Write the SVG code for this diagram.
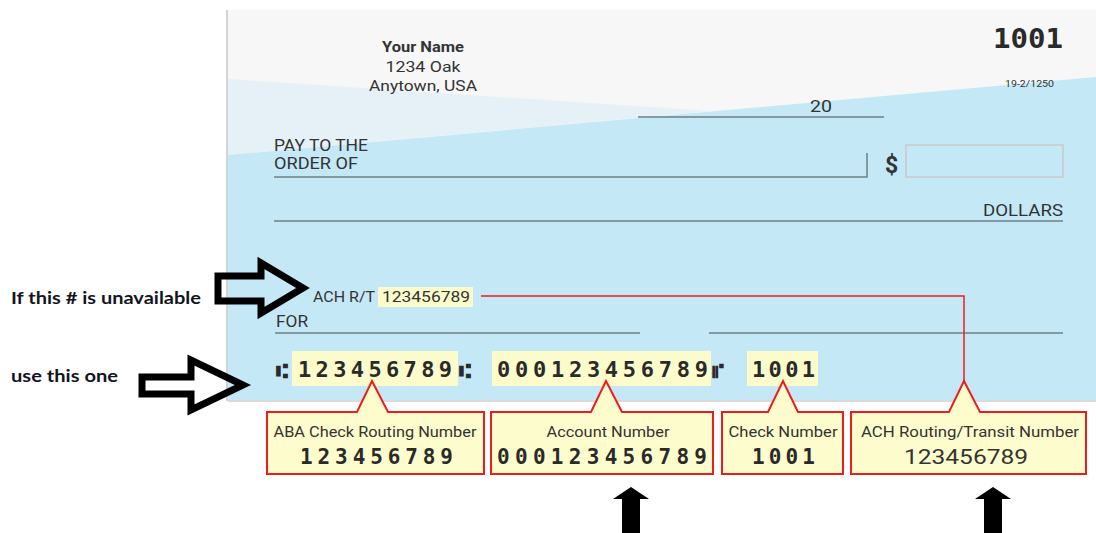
<svg xmlns="http://www.w3.org/2000/svg" width="1096" height="533" viewBox="0 0 1096 533">
<style>
.ck{font-family:Roboto,"Liberation Sans",sans-serif;fill:#333;}
.b{font-weight:bold;}
.micr{font-family:"DejaVu Sans Mono",monospace;font-weight:bold;fill:#2a2a2a;}
.sym{font-family:"DejaVu Sans","DejaVu Sans Mono",sans-serif;font-weight:bold;fill:#2a2a2a;}
.ln{stroke:#6f7f86;stroke-width:1.5;fill:none;}
.hl{fill:#fcfbcc;}
.call{fill:#fdfccc;stroke:#ee1c1c;stroke-width:2;}
.lbl{font-family:Lato,"Liberation Sans",sans-serif;font-weight:bold;fill:#141420;}
.oarrow{fill:none;stroke:#000;stroke-width:7;stroke-linejoin:miter;}
.sarrow{fill:#000;}
</style>
<rect width="1096" height="533" fill="#fff"/>
<g id="check">
<rect x="228" y="10" width="868" height="391" fill="#f7f7f7"/>
<polygon points="228,79 711,111 228,155" fill="#e5f1f7"/>
<polygon points="228,155 1096,77 1096,400 228,400" fill="#c4e8f6"/>
<line x1="227" y1="10" x2="227" y2="401" stroke="#d4d4d4" stroke-width="2"/>
<line x1="228" y1="401" x2="1096" y2="401" stroke="#cfcfcf" stroke-width="1.5"/>
<text class="ck b" x="423" y="52" font-size="15" text-anchor="middle" textLength="82" lengthAdjust="spacingAndGlyphs">Your Name</text>
<text class="ck" x="423" y="72" font-size="15" text-anchor="middle" textLength="75" lengthAdjust="spacingAndGlyphs">1234 Oak</text>
<text class="ck" x="423" y="91" font-size="15" text-anchor="middle" textLength="108" lengthAdjust="spacingAndGlyphs">Anytown, USA</text>
<text class="micr" x="993" y="48" font-size="27" textLength="70" lengthAdjust="spacingAndGlyphs">1001</text>
<text class="ck" x="1005" y="87" font-size="9.5" textLength="49" lengthAdjust="spacingAndGlyphs">19-2/1250</text>
<text class="ck" x="810" y="112" font-size="16" textLength="22" lengthAdjust="spacingAndGlyphs">20</text>
<line class="ln" x1="638" y1="117" x2="884" y2="117"/>
<text class="ck" x="274" y="151" font-size="17" textLength="94" lengthAdjust="spacingAndGlyphs">PAY TO THE</text>
<text class="ck" x="274" y="169" font-size="17" textLength="84" lengthAdjust="spacingAndGlyphs">ORDER OF</text>
<polyline class="ln" points="274,177 867,177 867,153"/>
<text class="ck b" x="885" y="173" font-size="23">$</text>
<rect x="906" y="145" width="157" height="32" fill="none" stroke="#c8c8c8" stroke-width="1.5"/>
<text class="ck" x="1063" y="216" font-size="17" text-anchor="end" textLength="80" lengthAdjust="spacingAndGlyphs">DOLLARS</text>
<line class="ln" x1="274" y1="221" x2="1063" y2="221"/>
<text class="ck" x="313" y="302" font-size="14" textLength="62" lengthAdjust="spacingAndGlyphs">ACH R/T</text>
<rect class="hl" x="378" y="287" width="95" height="20"/>
<text class="ck" x="382" y="302" font-size="15" textLength="88" lengthAdjust="spacingAndGlyphs">123456789</text>
<text class="ck" x="276" y="327" font-size="16" textLength="32" lengthAdjust="spacingAndGlyphs">FOR</text>
<line class="ln" x1="275" y1="333" x2="640" y2="333"/>
<line class="ln" x1="709" y1="333" x2="1063" y2="333"/>
<rect class="hl" x="292" y="351" width="166" height="35"/>
<rect class="hl" x="492" y="351" width="219" height="35"/>
<rect class="hl" x="747" y="351" width="71" height="35"/>
<text class="sym" x="276" y="378" font-size="20">⑆</text>
<text class="micr" x="298" y="377" font-size="22" textLength="154" lengthAdjust="spacing">123456789</text>
<text class="sym" x="459" y="378" font-size="20">⑆</text>
<text class="micr" x="497" y="377" font-size="22" textLength="211" lengthAdjust="spacing">000123456789</text>
<text class="sym" x="712" y="378" font-size="20">⑈</text>
<text class="micr" x="752" y="377" font-size="22" textLength="63" lengthAdjust="spacing">1001</text>
</g>
<g id="connectors">
<polyline points="481,296 964,296 964,382" fill="none" stroke="#ee1c1c" stroke-width="1.5"/>
</g>
<g id="callout-aba">
<path class="call" d="M267,412 H357 L372,381 L388,412 H484 V474 H267 Z"/>
<text class="ck" x="375" y="437" font-size="15" text-anchor="middle" textLength="203" lengthAdjust="spacingAndGlyphs">ABA Check Routing Number</text>
<text class="micr" x="300" y="464" font-size="21" textLength="153" lengthAdjust="spacing">123456789</text>
</g>
<g id="callout-account">
<path class="call" d="M491,412 H591 L606,381 L622,412 H713 V474 H491 Z"/>
<text class="ck" x="608" y="437" font-size="15" text-anchor="middle" textLength="123" lengthAdjust="spacingAndGlyphs">Account Number</text>
<text class="micr" x="497" y="464" font-size="21" textLength="210" lengthAdjust="spacing">000123456789</text>
</g>
<g id="callout-check">
<path class="call" d="M722,412 H768 L783,381 L798,412 H843 V474 H722 Z"/>
<text class="ck" x="783" y="437" font-size="15" text-anchor="middle" textLength="109" lengthAdjust="spacingAndGlyphs">Check Number</text>
<text class="micr" x="752" y="464" font-size="21" textLength="63" lengthAdjust="spacing">1001</text>
</g>
<g id="callout-ach">
<path class="call" d="M851,412 H949 L964,381 L980,412 H1086 V474 H851 Z"/>
<text class="ck" x="970" y="437" font-size="15" text-anchor="middle" textLength="218" lengthAdjust="spacingAndGlyphs">ACH Routing/Transit Number</text>
<text class="ck" x="904" y="464" font-size="20" textLength="124" lengthAdjust="spacingAndGlyphs">123456789</text>
</g>
<g id="label-unavailable">
<text class="lbl" x="11" y="304" font-size="17" textLength="190" lengthAdjust="spacingAndGlyphs">If this # is unavailable</text>
<polygon class="oarrow" points="218,276 261,276 261,263 303,288 261,313 261,301 218,301"/>
</g>
<g id="label-use">
<text class="lbl" x="11" y="382" font-size="17" textLength="107" lengthAdjust="spacingAndGlyphs">use this one</text>
<polygon class="oarrow" points="142,377 191,377 191,360 243,385 191,410 191,394 142,394"/>
</g>
<g id="arrow-account">
<polygon class="sarrow" points="631,487 649,499 640,499 640,533 622,533 622,499 613,499"/>
</g>
<g id="arrow-ach">
<polygon class="sarrow" points="993,487 1011,499 1002,499 1002,533 984,533 984,499 975,499"/>
</g>
</svg>
